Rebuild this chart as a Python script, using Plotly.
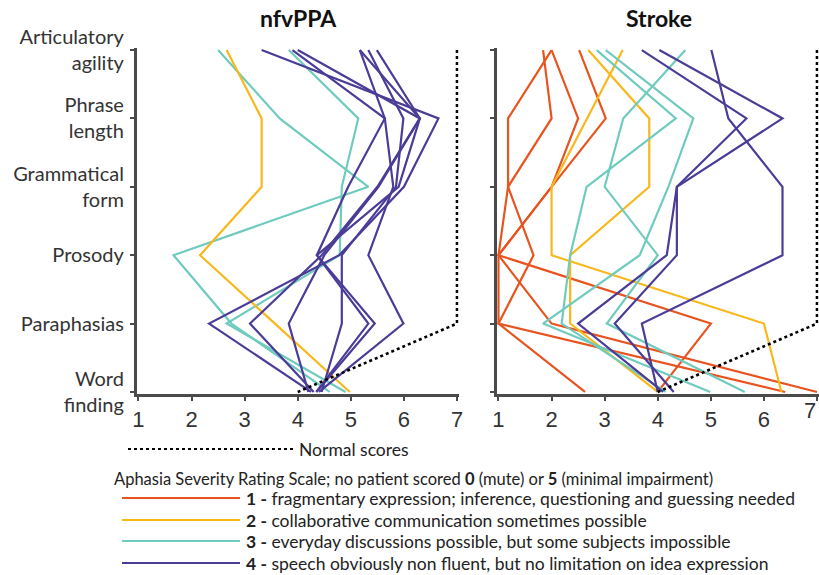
import plotly.graph_objects as go

# ---------------- data ----------------
categories = ["Articulatory<br>agility", "Phrase<br>length", "Grammatical<br>form",
              "Prosody", "Paraphasias", "Word<br>finding"]          # top -> bottom
x_ticks = [1, 2, 3, 4, 5, 6, 7]
normal_scores = [7, 7, 7, 7, 7, 4]

# nfvPPA patients (values listed top -> bottom, same order as categories)
nfv_yellow = [
    [2.66, 3.32, 3.32, 2.16, 3.57, 4.98],
]
nfv_teal = [
    [2.50, 3.66, 5.33, 1.66, 2.75, 4.60],
    [3.83, 5.14, 4.83, 4.79, 2.66, 4.90],
]
nfv_purple = [
    [3.32, 6.65, 6.00, 4.78, 2.33, 4.25],
    [3.90, 5.64, 4.95, 4.36, 5.45, 4.35],
    [4.00, 6.30, 5.50, 4.45, 3.10, 4.30],
    [5.17, 5.64, 5.80, 5.33, 5.99, 4.40],
    [5.33, 5.99, 5.85, 4.83, 4.83, 4.45],
    [5.49, 6.30, 5.52, 4.50, 3.83, 4.20],
    [5.17, 6.30, 5.90, 4.36, 5.33, 4.35],
]

# Stroke patients
stroke_orange = [
    [1.84, 2.00, 1.18, 1.00, 2.00, 7.00],
    [2.00, 1.18, 1.18, 1.66, 1.00, 2.63],
    [2.00, 2.50, 2.00, 1.00, 5.00, 4.00],
    [2.52, 3.02, 2.00, 1.00, 1.00, 6.40],
]
stroke_yellow = [
    [2.69, 3.84, 3.84, 2.35, 2.35, 4.00],
    [3.34, 2.67, 2.00, 2.00, 6.00, 6.33],
]
stroke_teal = [
    [2.85, 4.34, 2.66, 2.35, 2.19, 4.15],
    [3.02, 4.67, 4.20, 3.66, 1.84, 4.99],
    [4.52, 3.35, 3.00, 4.00, 3.04, 5.64],
]
stroke_purple = [
    [3.70, 5.67, 4.36, 4.17, 2.50, 4.10],
    [4.03, 6.35, 4.36, 4.36, 3.19, 4.30],
    [5.01, 5.33, 6.35, 6.35, 3.70, 4.00],
]

legend_header = ("Aphasia Severity Rating Scale; no patient scored <b>0</b> (mute) "
                 "or <b>5</b> (minimal impairment)")
legend_labels = [
    "<b>1 -</b> fragmentary expression; inference, questioning and guessing needed",
    "<b>2 -</b> collaborative communication sometimes possible",
    "<b>3 -</b> everyday discussions possible, but some subjects impossible",
    "<b>4 -</b> speech obviously non fluent, but no limitation on idea expression",
]
panel_titles = ["nfvPPA", "Stroke"]

# ---------------- styles ----------------
ORANGE = "#E8531F"
YELLOW = "#F8B81B"
TEAL = "#70CBBF"
PURPLE = "#4B3C97"
legend_colors = [ORANGE, YELLOW, TEAL, PURPLE]
FONT = "Lato"
AXIS = "#4a4a4a"
W, H = 819, 575


def px(x):
    return x / W


def py(y):
    return 1 - y / H


fig = go.Figure()


def add_group(series_list, color, xa, ya):
    for vals in series_list:
        fig.add_trace(go.Scatter(
            x=vals, y=categories, mode="lines", xaxis=xa, yaxis=ya,
            line=dict(color=color, width=2.2), showlegend=False,
            hoverinfo="skip"))


# nfvPPA panel
add_group(nfv_teal, TEAL, "x", "y")
add_group(nfv_yellow, YELLOW, "x", "y")
add_group(nfv_purple, PURPLE, "x", "y")
fig.add_trace(go.Scatter(x=normal_scores, y=categories, mode="lines", xaxis="x", yaxis="y",
                         line=dict(color="black", width=2.6, dash="dot"),
                         showlegend=False, hoverinfo="skip"))

# Stroke panel
add_group(stroke_orange, ORANGE, "x2", "y2")
add_group(stroke_yellow, YELLOW, "x2", "y2")
add_group(stroke_teal, TEAL, "x2", "y2")
add_group(stroke_purple, PURPLE, "x2", "y2")
fig.add_trace(go.Scatter(x=normal_scores, y=categories, mode="lines", xaxis="x2", yaxis="y2",
                         line=dict(color="black", width=2.6, dash="dot"),
                         showlegend=False, hoverinfo="skip"))

xr = [0.97, 7.03]
yr = [-0.03, 5.03]
ydom = [1 - 394 / H, 1 - 48 / H]
TICKFONT = dict(family="Liberation Sans", size=22, color="#333333")

xcommon = dict(range=xr, tickvals=x_ticks, ticktext=[str(v) for v in x_ticks],
               ticks="outside", ticklen=4, tickwidth=2, tickcolor=AXIS,
               showline=True, linecolor=AXIS, linewidth=3, showgrid=False,
               zeroline=False, automargin=False, tickfont=TICKFONT)
ycommon = dict(type="category", categoryarray=list(reversed(categories)), range=yr,
               ticks="outside", ticklen=4, tickwidth=2, tickcolor=AXIS,
               showline=True, linecolor=AXIS, linewidth=3, showgrid=False,
               zeroline=False, automargin=False)

fig.update_layout(
    width=W, height=H, autosize=False,
    margin=dict(l=0, r=0, t=0, b=0),
    paper_bgcolor="white", plot_bgcolor="white",
    xaxis=dict(domain=[136.9 / W, 458.6 / W], anchor="y", **xcommon),
    xaxis2=dict(domain=[496.9 / W, 818.6 / W], anchor="y2", **xcommon),
    yaxis=dict(domain=ydom, anchor="x", showticklabels=True,
               tickfont=dict(family=FONT, size=20, color="#333333"),
               ticklabelstandoff=2, **ycommon),
    yaxis2=dict(domain=ydom, anchor="x2", showticklabels=False, **ycommon),
    showlegend=False,
)

annotations = [
    dict(text="<b>%s</b>" % panel_titles[0], x=px(298), y=py(18), xref="paper", yref="paper",
         showarrow=False, font=dict(family=FONT, size=23, color="#111111"),
         xanchor="center", yanchor="middle"),
    dict(text="<b>%s</b>" % panel_titles[1], x=px(659), y=py(18), xref="paper", yref="paper",
         showarrow=False, font=dict(family=FONT, size=23, color="#111111"),
         xanchor="center", yanchor="middle"),
    dict(text="Normal scores", x=px(297), y=py(449), xref="paper", yref="paper",
         showarrow=False, font=dict(family=FONT, size=17.5, color="#222222"),
         xanchor="left", yanchor="middle"),
    dict(text=legend_header, x=px(112), y=py(479), xref="paper", yref="paper",
         showarrow=False, font=dict(family=FONT, size=16.5, color="#222222"),
         xanchor="left", yanchor="middle"),
    # last tick label of the Stroke panel, kept inside the page edge
    dict(text=str(x_ticks[-1]), x=1.0, xref="paper", y=py(410), yref="paper",
         showarrow=False, font=TICKFONT, xanchor="right", yanchor="middle",
         xshift=-1),
]
shapes = [
    dict(type="line", xref="paper", yref="paper", x0=px(128), x1=px(293), y0=py(449), y1=py(449),
         line=dict(color="black", width=2, dash="dot")),
]
legend_y = [498, 520, 541, 563]
for lab, col, yy in zip(legend_labels, legend_colors, legend_y):
    shapes.append(dict(type="line", xref="paper", yref="paper", x0=px(122), x1=px(240),
                       y0=py(yy), y1=py(yy), line=dict(color=col, width=2.2)))
    annotations.append(dict(text=lab, x=px(244), y=py(yy), xref="paper", yref="paper",
                            showarrow=False, font=dict(family=FONT, size=17.5, color="#222222"),
                            xanchor="left", yanchor="middle"))

fig.update_layout(annotations=annotations, shapes=shapes)

fig.write_html("out.html", config={"displayModeBar": False},
               post_script="document.body.style.margin='0px';document.body.style.padding='0px';")
